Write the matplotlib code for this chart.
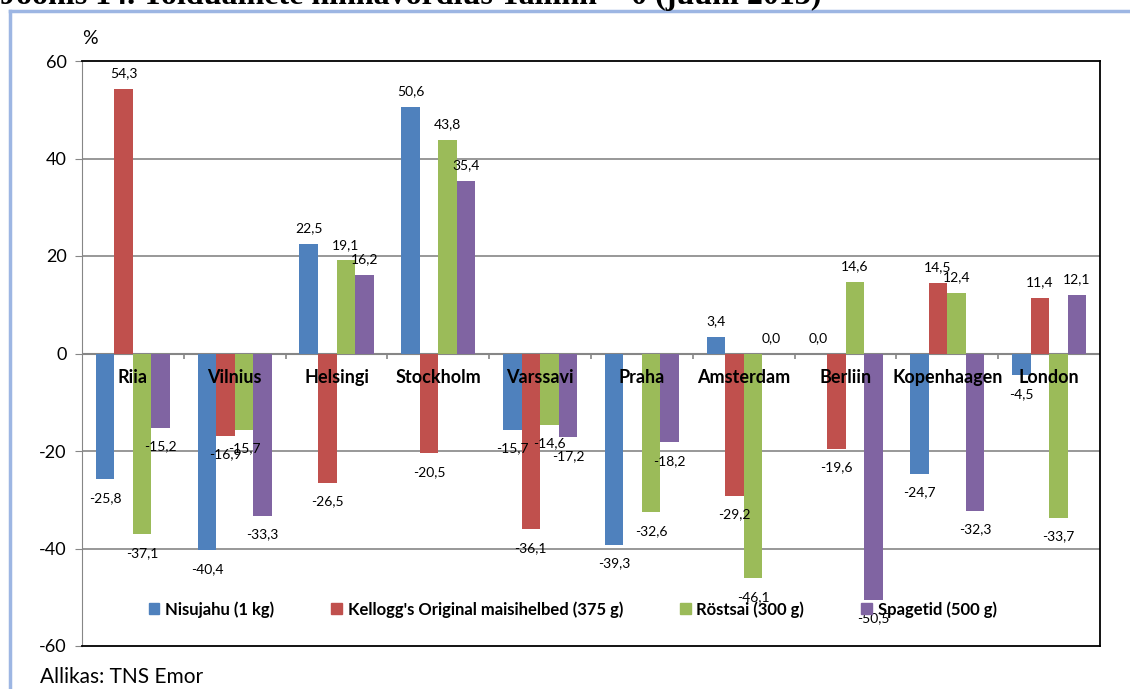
import numpy as np
import matplotlib
matplotlib.use("Agg")
import matplotlib.pyplot as plt
from matplotlib.patches import Patch
from matplotlib.lines import Line2D

# data (% difference vs Tallinn)
cities = ['Riia', 'Vilnius', 'Helsingi', 'Stockholm', 'Varssavi', 'Praha',
          'Amsterdam', 'Berliin', 'Kopenhaagen', 'London']
series_names = ['Nisujahu (1 kg)', "Kellogg's Original maisihelbed (375 g)",
                'Röstsai (300 g)', 'Spagetid (500 g)']
nisujahu = [-25.8, -40.4, 22.5, 50.6, -15.7, -39.3, 3.4, 0.0, -24.7, -4.5]
kelloggs = [54.3, -16.9, -26.5, -20.5, -36.1, np.nan, -29.2, -19.6, 14.5, 11.4]
rostsai = [-37.1, -15.7, 19.1, 43.8, -14.6, -32.6, -46.1, 14.6, 12.4, -33.7]
spagetid = [-15.2, -33.3, 16.2, 35.4, -17.2, -18.2, 0.0, -50.5, -32.3, 12.1]
colors = ['#4F81BD', '#C0504D', '#9BBB59', '#8064A2']
yticks = [60, 40, 20, 0, -20, -40, -60]

plt.rcParams['font.family'] = ['Lato', 'DejaVu Sans']

fig = plt.figure(figsize=(11.3, 6.89), dpi=100)
ax = fig.add_axes([82 / 1130, 1 - 646 / 689, 1018 / 1130, 585 / 689])

x = np.arange(len(cities))
w = 0.182
all_series = [nisujahu, kelloggs, rostsai, spagetid]
for k, vals in enumerate(all_series):
    pos = x + (k - 1.5) * w
    v = np.array(vals, dtype=float)
    ok = ~np.isnan(v)
    ax.bar(pos[ok], v[ok], width=w, color=colors[k], zorder=3)
    for p, val in zip(pos[ok], v[ok]):
        txt = f'{val:.1f}'.replace('.', ',')
        if val >= 0:
            ax.annotate(txt, (p, val), xytext=(0, 7), textcoords='offset points',
                        ha='center', va='bottom', fontsize=10, zorder=4)
        else:
            ax.annotate(txt, (p, val), xytext=(0, -9), textcoords='offset points',
                        ha='center', va='top', fontsize=10, zorder=4)

ax.set_xlim(-0.5, len(cities) - 0.5)
ax.set_ylim(-60, 60)
ax.set_yticks(yticks)
ax.set_yticklabels([str(t) for t in yticks], fontsize=13)
ax.set_xticks([])
ax.tick_params(axis='y', length=5, color='#868686', pad=6)

for g in [40, 20, -20, -40]:
    ax.axhline(g, color='#868686', lw=1.2, zorder=1)
ax.axhline(0, color='#868686', lw=1.5, zorder=2)
ax.vlines(x[1:] - 0.5, -1.1, 0, color='#868686', lw=1.2, zorder=2)

for s in ['top', 'right', 'bottom']:
    ax.spines[s].set_color('black')
    ax.spines[s].set_linewidth(1.3)
ax.spines['left'].set_color('#868686')

for i, c in enumerate(cities):
    ax.text(i, -4.9, c, ha='center', va='center', fontsize=13,
            fontweight='bold', zorder=5)

handles = [Patch(color=c) for c in colors]
ax.legend(handles, series_names, loc='center', bbox_to_anchor=(0.482, 0.0625),
          ncol=4, frameon=False, prop={'size': 12, 'weight': 'bold'},
          handlelength=0.65, handleheight=0.65, handletextpad=0.35,
          columnspacing=3.4)

fig.text(90 / 1130, 1 - 38 / 689, '%', fontsize=14, ha='center', va='center')
fig.text(40 / 1130, 1 - 677 / 689, 'Allikas: TNS Emor', fontsize=15,
         ha='left', va='center')
fig.text(0.0, 1 - 4 / 689, 'Joonis 14. Toiduainete hinnavõrdlus Tallinn = 0 (juuni 2013)',
         fontsize=23, fontweight='bold', family='Liberation Serif',
         ha='left', va='baseline')

fig.add_artist(Line2D([9.5 / 1130, 9.5 / 1130], [0, 1 - 11 / 689],
                      color='#9DB6E3', lw=2.5, transform=fig.transFigure))
fig.add_artist(Line2D([9.5 / 1130, 1], [1 - 11 / 689, 1 - 11 / 689],
                      color='#9DB6E3', lw=2.5, transform=fig.transFigure))

fig.savefig('out.png', dpi=100)
